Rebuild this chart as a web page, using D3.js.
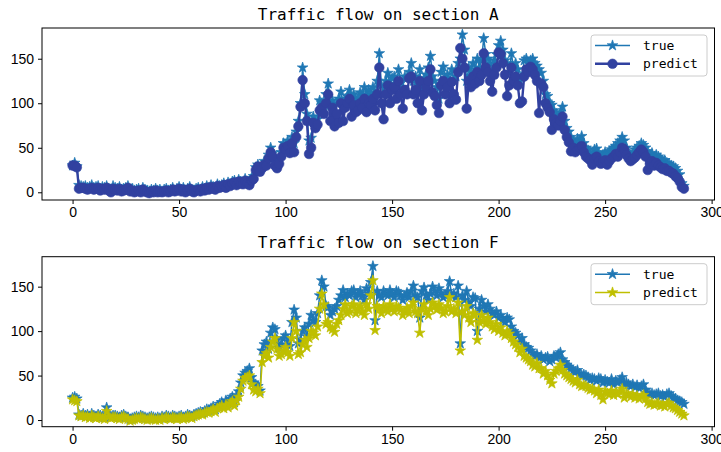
<!DOCTYPE html>
<html>
<head>
<meta charset="utf-8">
<script src="https://cdn.jsdelivr.net/npm/d3@7"></script>
<style>
  html, body { margin: 0; padding: 0; background: #ffffff; }
  svg { display: block; }
</style>
</head>
<body>
<svg id="chart" width="721" height="452"></svg>
<script>
// ---------------- data ----------------
const xTicks = [0, 50, 100, 150, 200, 250, 300];
const yTicks = [0, 50, 100, 150];
const titles = ["Traffic flow on section A", "Traffic flow on section F"];
const seriesNames = ["true", "predict"];

const trueA = [
  30,33,29,8,7,6,7,5,6,8,
  5,6,7,4,6,5,7,4,3,7,
  5,4,6,3,4,5,7,3,4,2,
  3,4,2,5,3,2,1,3,2,4,
  2,3,1,3,4,2,3,5,2,4,
  6,3,5,2,4,6,3,2,4,5,
  3,6,4,7,5,8,6,5,9,7,
  8,10,7,11,9,12,13,10,14,12,
  11,15,12,10,16,18,28,31,25,30,
  35,33,42,50,44,38,30,36,45,55,
  52,58,48,62,55,68,80,100,140,110,
  88,58,61,85,78,82,103,100,95,110,
  122,98,103,90,100,105,113,98,105,108,
  115,100,110,105,104,112,108,118,110,115,
  112,118,108,125,156,120,110,125,134,120,
  128,130,122,138,125,118,130,128,135,145,
  125,130,120,138,115,128,132,140,153,130,
  125,118,105,135,141,128,132,120,138,125,
  130,145,150,177,160,125,140,135,145,138,
  150,140,148,173,155,150,145,135,148,155,
  165,170,160,148,145,135,156,140,145,138,
  125,130,148,150,145,148,150,145,142,138,
  134,125,110,108,100,98,92,88,85,90,
  96,80,72,68,62,58,55,60,58,63,
  55,50,47,45,42,48,49,44,40,42,
  45,43,46,48,50,52,55,58,62,58,
  50,45,42,44,48,50,52,55,53,50,
  46,42,44,40,42,40,38,35,36,33,
  32,30,29,27,24,20,10,7
];
const predA = [
  30,30,28,4,5,5,4,3,4,5,
  3,4,5,2,4,3,5,2,0,4,
  3,2,4,1,2,3,5,1,2,0,
  1,2,0,3,1,0,-1,1,0,2,
  0,1,0,1,2,0,1,3,1,2,
  4,1,3,0,2,4,1,0,2,3,
  1,4,2,5,3,6,4,3,7,5,
  6,8,5,9,7,10,11,8,12,10,
  9,13,10,8,13,15,25,29,23,27,
  31,30,38,45,40,30,27,32,40,50,
  48,52,44,55,45,62,74,96,126,100,
  80,43,50,78,72,76,92,95,88,100,
  110,80,95,74,88,78,100,80,95,100,
  105,85,98,90,92,100,95,105,90,100,
  98,105,92,110,140,100,82,110,120,100,
  115,118,105,125,110,94,115,110,128,130,
  110,115,100,125,92,110,118,125,138,112,
  108,98,89,120,125,110,118,100,124,110,
  104,135,162,150,140,94,125,118,130,122,
  135,125,132,156,140,135,125,113,132,140,
  157,155,145,132,108,120,140,125,130,120,
  100,102,130,138,135,141,138,132,125,89,
  122,118,100,95,90,70,82,78,75,80,
  85,70,62,56,46,50,45,48,50,52,
  45,40,38,36,31,38,40,35,32,34,
  36,31,35,38,40,43,40,45,50,48,
  42,38,35,37,39,42,45,48,45,40,
  25,32,35,30,33,30,28,26,27,24,
  24,22,21,18,16,12,6,4
];
const trueF = [
  25,26,24,6,5,7,5,6,4,7,
  5,4,6,5,4,3,14,6,4,5,
  5,4,3,5,6,4,3,1,2,3,
  4,3,5,4,3,2,3,4,3,2,
  3,2,4,3,5,4,3,5,4,3,
  4,5,3,4,6,5,4,6,7,8,
  9,8,10,12,11,13,15,12,16,18,
  20,17,22,18,24,26,20,28,32,42,
  50,53,55,58,48,42,40,38,33,78,
  85,88,80,98,104,102,90,81,85,92,
  95,88,83,110,124,115,86,90,100,104,
  94,108,118,112,110,120,140,157,150,128,
  127,118,122,125,128,135,140,146,138,142,
  140,145,146,138,142,145,140,135,148,142,
  155,173,112,145,140,138,145,142,140,146,
  142,138,145,144,140,135,140,143,138,145,
  151,140,138,115,145,149,140,135,142,150,
  145,140,148,143,138,140,145,156,140,142,
  138,151,86,140,135,145,132,128,138,137,
  100,125,135,128,122,130,125,120,118,122,
  115,118,112,110,115,113,105,100,98,95,
  88,92,85,82,81,78,75,72,74,70,
  72,68,70,71,66,68,72,70,74,76,
  68,65,62,60,58,55,54,56,52,50,
  51,50,48,45,47,46,44,47,46,42,
  45,43,42,46,40,44,42,45,48,40,
  42,40,38,40,37,39,36,38,40,34,
  30,29,30,28,29,30,27,28,26,29,
  30,27,25,24,22,21,20,18
];
const predF = [
  23,22,21,5,4,5,3,4,2,5,
  3,2,4,3,2,1,10,4,2,3,
  3,2,1,3,4,2,1,-1,0,1,
  2,1,3,2,1,0,1,2,1,0,
  1,0,2,1,3,2,1,3,2,1,
  2,3,1,2,4,3,2,4,5,6,
  7,6,8,9,8,10,12,9,13,14,
  16,13,17,14,19,21,16,22,26,35,
  44,47,48,50,40,34,32,35,30,65,
  72,75,70,82,88,92,80,72,74,78,
  82,76,72,92,110,100,74,76,85,90,
  82,92,100,98,95,105,125,142,130,108,
  110,104,102,99,108,112,118,125,130,120,
  122,128,130,120,125,128,122,118,130,125,
  140,157,101,128,125,120,128,125,122,130,
  125,122,128,126,124,118,122,126,120,128,
  132,122,120,98,125,130,122,118,125,132,
  128,124,130,126,120,122,128,138,122,125,
  120,132,78,122,118,128,115,110,120,118,
  90,110,118,112,108,115,110,105,102,108,
  100,104,98,95,100,97,92,88,85,82,
  76,80,72,70,68,66,62,60,64,58,
  58,52,55,50,45,41,52,55,58,62,
  56,52,50,48,46,44,42,45,40,38,
  39,38,36,34,35,33,30,34,28,23,
  32,30,29,33,28,31,29,32,35,25,
  30,28,26,29,25,27,24,26,28,24,
  20,18,19,17,18,19,16,17,15,18,
  19,16,14,13,11,9,7,5
];

// ---------------- layout ----------------
const svg = d3.select("#chart");
const X0 = 42, X1 = 714.5;
const xDomain = [-14.35, 301.35];
const panels = [
  { title: titles[0], top: 28, bottom: 200, yDomain: [-8.66, 184.5], titleY: 20,
    series: [
      { name: seriesNames[0], data: trueA, color: "#1f77b4", marker: "star", lw: 1.5 },
      { name: seriesNames[1], data: predA, color: "#3141a0", marker: "circle", lw: 2.4 }
    ] },
  { title: titles[1], top: 256.7, bottom: 426.7, yDomain: [-7.5, 183.7], titleY: 248.3,
    series: [
      { name: seriesNames[0], data: trueF, color: "#1f77b4", marker: "star", lw: 1.5 },
      { name: seriesNames[1], data: predF, color: "#bfbf00", marker: "star", lw: 1.6 }
    ] }
];

function starPath(R) {
  const r = R * 0.381966;
  let p = "";
  for (let k = 0; k < 10; k++) {
    const rad = k % 2 === 0 ? R : r;
    const a = -Math.PI / 2 + k * Math.PI / 5;
    p += (k === 0 ? "M" : "L") + (rad * Math.cos(a)).toFixed(2) + "," + (rad * Math.sin(a)).toFixed(2);
  }
  return p + "Z";
}
const STAR = starPath(5.6);

function drawMarker(g, marker, color, x, y) {
  if (marker === "star") {
    g.append("path").attr("d", STAR).attr("transform", `translate(${x},${y})`)
      .attr("fill", color).attr("stroke", color).attr("stroke-width", 0.7);
  } else {
    g.append("circle").attr("cx", x).attr("cy", y).attr("r", 4.8)
      .attr("fill", color).attr("stroke", color).attr("stroke-width", 0.6);
  }
}

const x = d3.scaleLinear().domain(xDomain).range([X0, X1]);

panels.forEach((p, pi) => {
  const y = d3.scaleLinear().domain(p.yDomain).range([p.bottom, p.top]);
  const g = svg.append("g");
  const clipId = "clip" + pi;
  svg.append("clipPath").attr("id", clipId).append("rect")
    .attr("x", X0).attr("y", p.top).attr("width", X1 - X0).attr("height", p.bottom - p.top);

  const plot = g.append("g").attr("clip-path", `url(#${clipId})`);
  const line = d3.line().x((d, i) => x(i)).y(d => y(d));
  p.series.forEach(s => {
    plot.append("path").datum(s.data).attr("d", line)
      .attr("fill", "none").attr("stroke", s.color).attr("stroke-width", s.lw)
      .attr("stroke-linejoin", "round");
    const mg = plot.append("g");
    s.data.forEach((d, i) => drawMarker(mg, s.marker, s.color, x(i), y(d)));
  });

  // axes
  const xa = g.append("g").attr("transform", `translate(0,${p.bottom})`)
    .call(d3.axisBottom(x).tickValues(xTicks).tickSize(4).tickPadding(3).tickFormat(d3.format("d")));
  const ya = g.append("g").attr("transform", `translate(${X0},0)`)
    .call(d3.axisLeft(y).tickValues(yTicks).tickSize(4).tickPadding(4).tickFormat(d3.format("d")));
  [xa, ya].forEach(a => {
    a.select(".domain").remove();
    a.selectAll("line").attr("stroke", "#000").attr("stroke-width", 1);
    a.selectAll("text").attr("fill", "#000").style("font-family", "'Liberation Sans', Arial, sans-serif").style("font-size", "14px");
  });

  // frame
  g.append("rect").attr("x", X0).attr("y", p.top).attr("width", X1 - X0).attr("height", p.bottom - p.top)
    .attr("fill", "none").attr("stroke", "#000").attr("stroke-width", 1);

  // title
  g.append("text").attr("x", (X0 + X1) / 2).attr("y", p.titleY).attr("text-anchor", "middle")
    .style("font-family", "'DejaVu Sans Mono', monospace").style("font-size", "16px").attr("fill", "#000")
    .text(p.title);

  // legend
  const lx = 591, ly = p.top + 7;
  const lg = g.append("g");
  lg.append("rect").attr("x", lx).attr("y", ly).attr("width", 116).attr("height", 41).attr("rx", 3)
    .attr("fill", "#fff").attr("fill-opacity", 0.8).attr("stroke", "#cccccc").attr("stroke-width", 1);
  p.series.forEach((s, k) => {
    const cy = ly + 10.5 + k * 18.3;
    lg.append("line").attr("x1", lx + 4).attr("x2", lx + 39).attr("y1", cy).attr("y2", cy)
      .attr("stroke", s.color).attr("stroke-width", s.lw);
    drawMarker(lg, s.marker, s.color, lx + 21.5, cy);
    lg.append("text").attr("x", lx + 52).attr("y", cy + 4.5)
      .style("font-family", "'DejaVu Sans Mono', monospace").style("font-size", "13px").attr("fill", "#000")
      .text(s.name);
  });
});
</script>
</body>
</html>
